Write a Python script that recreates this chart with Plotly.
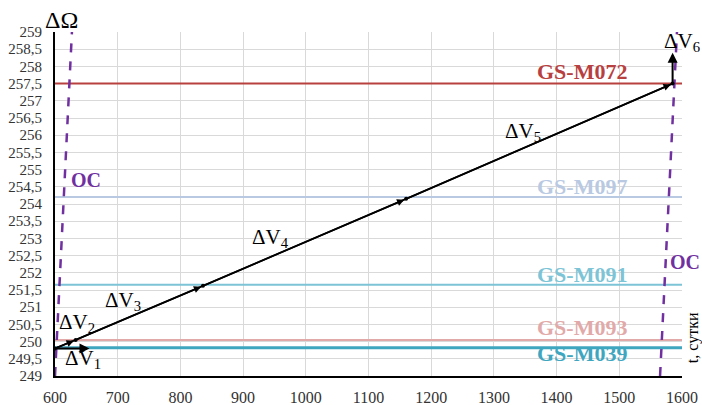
import plotly.graph_objects as go

# --- data ---
x_ticks = [600, 700, 800, 900, 1000, 1100, 1200, 1300, 1400, 1500, 1600]
y_ticks = [249 + 0.5 * i for i in range(21)]
y_tick_text = [("%g" % v).replace(".", ",") for v in y_ticks]

sat_names = ["GS-M072", "GS-M097", "GS-M091", "GS-M093", "GS-M039"]
sat_levels = [257.5, 254.2, 251.65, 250.05, 249.82]
sat_colors = ["#b8403f", "#b9c9e2", "#7cc4d6", "#e2a9a9", "#3fa6bf"]
sat_widths = [2, 2, 2, 2, 3]
sat_label_y = [257.84, 254.52, 251.94, 250.42, 249.66]

# manoeuvre trajectory nodes (t, ΔΩ)
traj_t = [600, 633, 836, 1160, 1585]
traj_w = [249.8, 250.05, 251.62, 254.15, 257.5]

# ΔV1 and ΔV6 arrows
dv1_t = [600, 655]
dv1_w = [249.8, 249.8]
dv6_t = [1585, 1585]
dv6_w = [257.5, 258.4]

# OC boundary lines
oc_left_t = [600, 627]
oc_right_t = [1565, 1592]
oc_w = [249, 259]

dv_labels = ["ΔV<sub>1</sub>", "ΔV<sub>2</sub>", "ΔV<sub>3</sub>", "ΔV<sub>4</sub>", "ΔV<sub>5</sub>", "ΔV<sub>6</sub>"]
dv_label_t = [645, 635, 708, 943, 1346, 1600]
dv_label_w = [249.48, 250.55, 251.18, 253.02, 256.08, 258.7]

serif = "Liberation Serif, Times New Roman, serif"

fig = go.Figure()

for name, lvl, col, w in zip(sat_names, sat_levels, sat_colors, sat_widths):
    fig.add_trace(go.Scatter(x=[600, 1600], y=[lvl, lvl], mode="lines",
                             line=dict(color=col, width=w), showlegend=False, hoverinfo="skip"))

fig.add_trace(go.Scatter(x=oc_left_t, y=oc_w, mode="lines",
                         line=dict(color="#7030a0", width=2.5, dash="dash"), showlegend=False))
fig.add_trace(go.Scatter(x=oc_right_t, y=oc_w, mode="lines",
                         line=dict(color="#7030a0", width=2.5, dash="dash"), showlegend=False))

fig.add_trace(go.Scatter(x=traj_t, y=traj_w, mode="lines+markers",
                         line=dict(color="black", width=1.8),
                         marker=dict(size=4, color="black"), showlegend=False))

annotations = []
# arrowheads on each trajectory segment
for i in range(1, len(traj_t)):
    annotations.append(dict(x=traj_t[i] - 3, y=traj_w[i] - 0.024, ax=traj_t[i - 1], ay=traj_w[i - 1],
                            xref="x", yref="y", axref="x", ayref="y", text="", showarrow=True,
                            arrowhead=2, arrowsize=0.9, arrowwidth=1.6, arrowcolor="black"))
annotations.append(dict(x=dv1_t[1], y=dv1_w[1], ax=dv1_t[0], ay=dv1_w[0], xref="x", yref="y",
                        axref="x", ayref="y", text="", showarrow=True, arrowhead=2, arrowsize=1,
                        arrowwidth=2, arrowcolor="black"))
annotations.append(dict(x=dv6_t[1], y=dv6_w[1], ax=dv6_t[0], ay=dv6_w[0], xref="x", yref="y",
                        axref="x", ayref="y", text="", showarrow=True, arrowhead=2, arrowsize=1,
                        arrowwidth=2, arrowcolor="black"))

for name, col, ly in zip(sat_names, sat_colors, sat_label_y):
    annotations.append(dict(x=1440, y=ly, xref="x", yref="y", text="<b>%s</b>" % name, showarrow=False,
                            font=dict(family=serif, size=22, color=col)))

for txt, lx, ly in zip(dv_labels, dv_label_t, dv_label_w):
    annotations.append(dict(x=lx, y=ly, xref="x", yref="y", text=txt, showarrow=False,
                            font=dict(family=serif, size=21, color="black")))

annotations.append(dict(x=649, y=254.7, xref="x", yref="y", text="<b>OC</b>", showarrow=False,
                        font=dict(family=serif, size=20, color="#7030a0")))
annotations.append(dict(x=1.0, y=252.3, xref="paper", yref="y", text="<b>OC</b>", showarrow=False,
                        xanchor="center", xshift=3, font=dict(family=serif, size=20, color="#7030a0")))
annotations.append(dict(x=0.0, y=1.0, xref="paper", yref="paper", text="ΔΩ", showarrow=False,
                        xanchor="center", yanchor="bottom", xshift=6, yshift=-3,
                        font=dict(family=serif, size=24, color="black")))
annotations.append(dict(x=1.0, y=0.11, xref="paper", yref="paper", text="t, сутки", showarrow=False,
                        textangle=-90, xanchor="center", yanchor="middle", xshift=11,
                        font=dict(family=serif, size=16, color="black")))

fig.update_layout(
    width=702, height=405,
    margin=dict(l=55, r=20, t=32, b=29, autoexpand=False),
    paper_bgcolor="white", plot_bgcolor="white",
    annotations=annotations,
    xaxis=dict(range=[600, 1600], tickvals=x_ticks, showgrid=True, gridcolor="#d9d9d9", gridwidth=1,
               zeroline=False, showline=True, linecolor="black", linewidth=2, automargin=False,
               tickfont=dict(family=serif, size=16, color="#333"), ticks="", ticklabelstandoff=6),
    yaxis=dict(range=[249, 259], tickvals=y_ticks, ticktext=y_tick_text, showgrid=True, automargin=False,
               gridcolor="#d9d9d9", gridwidth=1, zeroline=False, showline=True, linecolor="black",
               linewidth=2, tickfont=dict(family=serif, size=15, color="#333"), ticks="",
               ticklabelstandoff=8),
)

fig.write_html("out.html")
